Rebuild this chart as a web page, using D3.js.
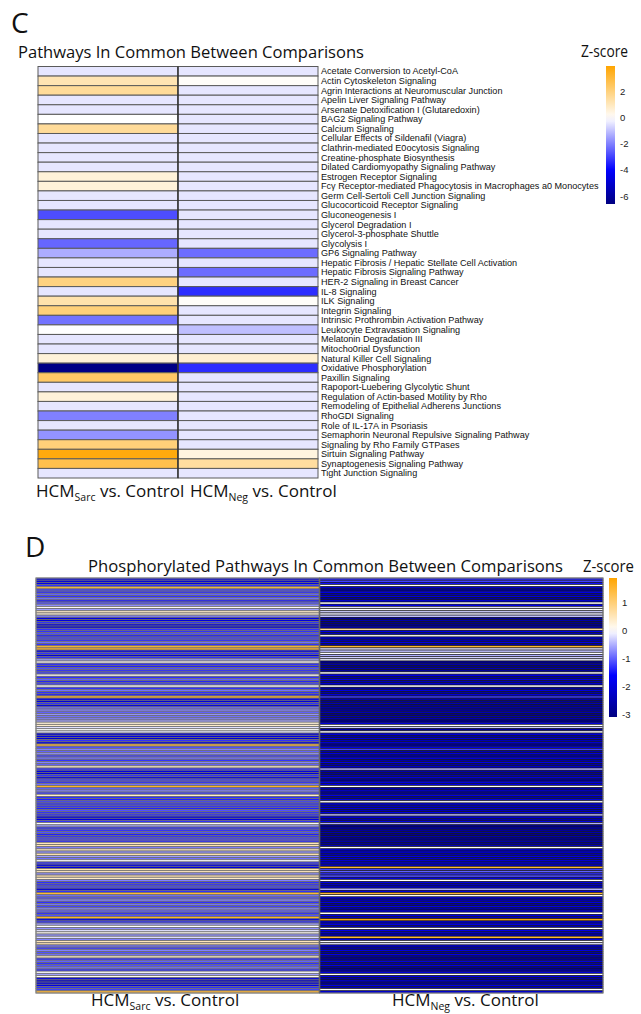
<!DOCTYPE html>
<html>
<head>
<meta charset="utf-8">
<script src="https://cdn.jsdelivr.net/npm/d3@7"></script>
<style>
  body { margin: 0; background: #fff; }
  svg { display: block; }
</style>
</head>
<body>
<div id="chart"></div>
<script>
// Panel C: pathways in common
const pathwaysC = [
  'Acetate Conversion to Acetyl-CoA', 'Actin Cytoskeleton Signaling',
  'Agrin Interactions at Neuromuscular Junction', 'Apelin Liver Signaling Pathway',
  'Arsenate Detoxification I (Glutaredoxin)', 'BAG2 Signaling Pathway', 'Calcium Signaling',
  'Cellular Effects of Sildenafil (Viagra)', 'Clathrin-mediated E0ocytosis Signaling',
  'Creatine-phosphate Biosynthesis', 'Dilated Cardiomyopathy Signaling Pathway',
  'Estrogen Receptor Signaling', 'Fcγ Receptor-mediated Phagocytosis in Macrophages a0 Monocytes',
  'Germ Cell-Sertoli Cell Junction Signaling', 'Glucocorticoid Receptor Signaling',
  'Gluconeogenesis I', 'Glycerol Degradation I', 'Glycerol-3-phosphate Shuttle', 'Glycolysis I',
  'GP6 Signaling Pathway', 'Hepatic Fibrosis / Hepatic Stellate Cell Activation',
  'Hepatic Fibrosis Signaling Pathway', 'HER-2 Signaling in Breast Cancer', 'IL-8 Signaling',
  'ILK Signaling', 'Integrin Signaling', 'Intrinsic Prothrombin Activation Pathway',
  'Leukocyte Extravasation Signaling', 'Melatonin Degradation III', 'Mitocho0rial Dysfunction',
  'Natural Killer Cell Signaling', 'Oxidative Phosphorylation', 'Paxillin Signaling',
  'Rapoport-Luebering Glycolytic Shunt', 'Regulation of Actin-based Motility by Rho',
  'Remodeling of Epithelial Adherens Junctions', 'RhoGDI Signaling', 'Role of IL-17A in Psoriasis',
  'Semaphorin Neuronal Repulsive Signaling Pathway', 'Signaling by Rho Family GTPases',
  'Sirtuin Signaling Pathway', 'Synaptogenesis Signaling Pathway', 'Tight Junction Signaling'
];
const sarcC = [-0.4, 1.2, 1.6, -0.4, -0.4, 0, 1.6, -0.4, -0.4, -0.4, -0.4, 0.6, 0.6, -0.4, -0.4,
  -2.8, -0.4, -0.4, -2.4, -1.3, -0.4, -0.4, 2.0, -0.4, 1.3, 2.1, -2.2, 0, -0.4, -0.4, 0.6, -6.5,
  2.4, -0.4, 0.6, -0.4, -2.0, -0.4, -1.7, 2.1, 3.8, 2.8, -0.4];
const negC = [-0.4, 0.1, -0.4, -0.4, -0.4, -0.4, -0.4, -0.4, -0.4, -0.4, -0.4, -0.4, -0.4, -0.4, -0.4,
  -0.4, -0.4, -0.4, -0.4, -2.3, -0.4, -2.3, -0.4, -3.3, 0.1, -0.4, -0.4, -1.0, -0.4, -0.4, 0.7, -3.3,
  -0.4, -0.4, -0.4, -0.4, -0.4, -0.4, -0.4, -0.4, 0.5, 1.5, -0.4];
const ticksC = [2, 0, -2, -4, -6];

// Panel D: phosphorylated pathways (rows unnamed in the figure)
const sarcD = [-1.9, -2.0, -1.8, -1.3, 1.4, -1.2, -1.3, -1.0, -1.3, -0.9, -1.4, -1.1, -0.7, 0.1, -0.6,
  0.4, 0.3, -0.8, -1.9, -2.0, -1.3, -1.9, -2.1, -1.3, -1.3, -1.1, -1.4, -1.2, -1.3, -0.9, -1.3, 1.5,
  1.6, -1.9, -1.3, -2.0, -1.3, -0.6, 0.1, -1.3, -1.4, -1.1, -1.3, -1.2, 0.1, -1.3, -1.0, -1.4, -1.2,
  0.0, -1.3, -0.9, -1.3, -1.4, 1.6, -1.9, -2.0, -1.3, -1.9, -0.9, -0.8, -1.0, -0.7, -0.9, -0.8, -0.6,
  0.3, 0.4, -0.2, 0.0, -0.1, -2.0, -1.9, -2.1, -1.3, -1.9, 1.5, -1.1, -0.8, -1.0, -0.7, -1.2, -0.9,
  -1.3, -0.8, -1.0, 0.4, -1.3, -1.9, -2.0, -1.3, -1.9, -1.2, -1.3, -0.9, 1.6, -1.0, -0.8, -1.2, 0.4,
  -1.3, -1.4, -1.2, -1.3, -1.3, -1.4, -1.1, -1.3, -1.3, -1.9, -2.0, -1.3, 0.0, -0.6, -1.3, -1.3, -1.1,
  -1.4, -1.3, -1.2, -1.3, 0.5, 0.6, -0.8, 0.5, -0.7, 0.6, -0.6, -0.9, 0.0, -1.3, -1.9, -2.0, 0.6, 0.5,
  -0.7, 0.6, 0.4, -0.8, -1.3, -1.3, -1.2, -2.0, -1.3, 1.5, -0.9, -1.1, -0.8, -1.3, -0.9, -1.2, -0.8,
  -1.0, -1.3, -1.1, 1.6, -2.0, -1.3, -0.6, 0.0, -0.7, -0.2, 0.1, -0.7, -0.2, -0.8, 0.5, 0.6, -0.9,
  -1.2, -0.8, -1.1, -0.9, 0.4, -1.3, -1.0, -1.3, -1.1, -0.9, -1.3, 0.0, -0.6, 0.1, -1.9, -2.2, -2.0,
  -1.9, -1.3, -1.2, 1.5];
const negD = [-1.3, -1.2, -1.5, 0.0, -2.0, -2.6, -1.9, -2.5, -2.0, -2.7, -1.9, 0.0, -1.9, -0.2, 0.0,
  -0.3, -0.1, -0.4, -2.8, -2.6, -2.9, -2.7, -2.5, 0.8, -1.9, -2.4, 0.0, -2.0, -2.6, -1.9, -2.5, 1.5,
  -0.2, -0.4, 0.0, -0.5, -0.3, -0.1, -2.8, -2.6, -2.9, -2.5, -2.7, 0.0, -1.9, -2.6, -2.0, -2.5, -1.9,
  0.0, -2.7, -2.0, -2.6, -1.9, -1.2, -2.7, -2.9, -2.5, -2.8, -2.4, -2.7, -2.5, -2.9, -2.6, -2.4, -2.8,
  -2.0, 0.0, -0.3, -2.7, 0.0, -1.9, -2.6, -2.0, -2.5, -1.9, -2.7, -2.0, -1.2, -2.6, -1.9, -2.5, -2.0,
  -2.7, -1.9, -2.6, -2.0, -0.5, -2.6, -2.8, -2.5, -1.9, -2.7, -2.0, -1.9, 0.0, -2.5, -2.0, -2.7, -1.9,
  -2.6, -2.0, 0.0, -1.9, -2.4, -2.0, -2.5, -1.9, -0.4, -2.0, -2.6, -1.9, -0.5, -2.7, -2.5, -2.8, -2.6,
  -2.9, -2.5, -2.7, -2.6, -2.8, -2.4, 0.0, -1.9, -2.0, -2.5, -1.9, -2.2, -2.0, -1.9, -2.4, 1.5, -1.2,
  -1.0, -1.3, -1.1, -2.0, 0.0, -1.9, -2.2, -2.0, -0.5, -2.0, 1.5, 0.0, -1.9, -2.5, -2.0, -2.6, -1.9,
  -2.4, -2.0, 0.0, -1.9, -2.3, 1.8, -2.0, -1.9, -2.5, 0.0, -1.9, -2.0, -2.4, 1.5, -2.0, 0.0, -0.2,
  -1.9, -2.6, -2.0, -2.7, -1.9, -2.5, -2.8, -2.0, -2.6, -1.9, -2.7, -2.5, -2.0, 0.0, -1.9, -2.6, -2.0,
  -2.8, -1.9, -2.4, 0.0, -1.9];
const ticksD = [1, 0, -1, -2, -3];

const comparisons = ['sarc', 'neg'];

const svg = d3.select('#chart').append('svg')
  .attr('width', 641)
  .attr('height', 1014);

const titleFont = '"Open Sans", sans-serif';
const armFont = '"Liberation Sans", Arial, sans-serif';

// colour: navy -> blue -> white -> orange
function makeColor(min, blueAt, max) {
  return d3.scaleLinear()
    .domain([min, blueAt, 0, max])
    .range(['#000080', '#0000ff', '#ffffff', '#ffa500'])
    .clamp(true);
}

function addText(x, y, str, size, width, font) {
  const t = svg.append('text')
    .attr('x', x).attr('y', y)
    .attr('font-family', font || titleFont)
    .attr('font-size', size)
    .attr('fill', '#111')
    .text(str);
  if (width) t.attr('textLength', width).attr('lengthAdjust', 'spacingAndGlyphs');
  return t;
}

function compLabel(x, y, sub) {
  const t = svg.append('text')
    .attr('x', x).attr('y', y)
    .attr('font-family', titleFont)
    .attr('font-size', 17)
    .attr('fill', '#111');
  t.append('tspan').text('HCM');
  t.append('tspan').attr('font-size', 10.5).attr('dy', 3.5).text(sub);
  t.append('tspan').attr('dy', -3.5).text(' vs. Control');
}

function colorBar(id, color, yScale, x, w, ticks) {
  const [lo, hi] = yScale.domain();
  const grad = svg.append('defs').append('linearGradient')
    .attr('id', id).attr('x1', 0).attr('x2', 0).attr('y1', 1).attr('y2', 0);
  d3.range(0, 1.0001, 0.05).forEach(t => {
    grad.append('stop')
      .attr('offset', t)
      .attr('stop-color', color(lo + t * (hi - lo)));
  });
  svg.append('rect')
    .attr('x', x).attr('y', yScale(hi))
    .attr('width', w).attr('height', yScale(lo) - yScale(hi))
    .attr('fill', `url(#${id})`);
  svg.selectAll(`text.${id}`)
    .data(ticks)
    .enter()
    .append('text')
    .attr('class', id)
    .attr('x', x + w + 5)
    .attr('y', d => yScale(d))
    .attr('dy', '0.35em')
    .attr('font-family', armFont)
    .attr('font-size', 9.5)
    .attr('fill', '#222')
    .text(d => d);
}

// ---------- Panel C ----------
addText(11, 33, 'C', 28);
addText(18, 58, 'Pathways In Common Between Comparisons', 17, 346);
addText(581, 57, 'Z-score', 16, 47);

const colorC = makeColor(-6.6, -4, 4.0);
const xC = d3.scaleBand().domain(comparisons).range([38, 318]);
const yC = d3.scaleBand().domain(pathwaysC).range([66.5, 478]);

const cellsC = [];
pathwaysC.forEach((p, i) => {
  cellsC.push({ row: p, col: 'sarc', v: sarcC[i] });
  cellsC.push({ row: p, col: 'neg', v: negC[i] });
});

svg.append('g').selectAll('rect')
  .data(cellsC)
  .enter()
  .append('rect')
  .attr('x', d => xC(d.col))
  .attr('y', d => yC(d.row))
  .attr('width', xC.bandwidth())
  .attr('height', yC.bandwidth())
  .attr('fill', d => colorC(d.v))
  .attr('stroke', '#5a5a5a')
  .attr('stroke-width', 1);

svg.append('line')
  .attr('x1', xC('neg')).attr('x2', xC('neg'))
  .attr('y1', yC.range()[0]).attr('y2', yC.range()[1])
  .attr('stroke', '#222').attr('stroke-width', 1.2);

svg.append('g').selectAll('text')
  .data(pathwaysC)
  .enter()
  .append('text')
  .attr('x', 321)
  .attr('y', d => yC(d) + yC.bandwidth() / 2)
  .attr('dy', '0.35em')
  .attr('font-family', armFont)
  .attr('font-size', 9.1)
  .attr('fill', '#111')
  .text(d => d);

colorBar('gradC', colorC, d3.scaleLinear().domain([-6.6, 4.0]).range([204, 66]), 606, 9, ticksC);

compLabel(36, 497, 'Sarc');
compLabel(190, 497, 'Neg');

// ---------- Panel D ----------
addText(25, 557, 'D', 28);
addText(88, 572, 'Phosphorylated Pathways In Common Between Comparisons', 17, 475);
addText(583, 572, 'Z-score', 16, 51);

const colorD = makeColor(-3.1, -1.6, 1.9);
const rowsD = d3.range(sarcD.length);
const xD = d3.scaleBand().domain(comparisons).range([36, 603]);
const yD = d3.scaleBand().domain(rowsD).range([578, 993]);

const cellsD = [];
rowsD.forEach(i => {
  cellsD.push({ row: i, col: 'sarc', v: sarcD[i] });
  cellsD.push({ row: i, col: 'neg', v: negD[i] });
});

svg.append('g').selectAll('rect')
  .data(cellsD)
  .enter()
  .append('rect')
  .attr('x', d => xD(d.col))
  .attr('y', d => yD(d.row))
  .attr('width', xD.bandwidth())
  .attr('height', yD.bandwidth())
  .attr('fill', d => colorD(d.v))
  .attr('stroke', d => d.col === 'neg' ? '#111' : '#6e6e6e')
  .attr('stroke-width', d => d.col === 'neg' ? 0.6 : 0.8);

svg.append('rect')
  .attr('x', 36).attr('y', 578)
  .attr('width', 567).attr('height', 415)
  .attr('fill', 'none')
  .attr('stroke', '#888').attr('stroke-width', 1);

svg.append('line')
  .attr('x1', xD('neg')).attr('x2', xD('neg'))
  .attr('y1', 578).attr('y2', 993)
  .attr('stroke', '#666').attr('stroke-width', 1.6);

colorBar('gradD', colorD, d3.scaleLinear().domain([-3.1, 1.9]).range([717, 578]), 609, 8, ticksD);

compLabel(91, 1006, 'Sarc');
compLabel(392, 1006, 'Neg');
</script>
</body>
</html>
